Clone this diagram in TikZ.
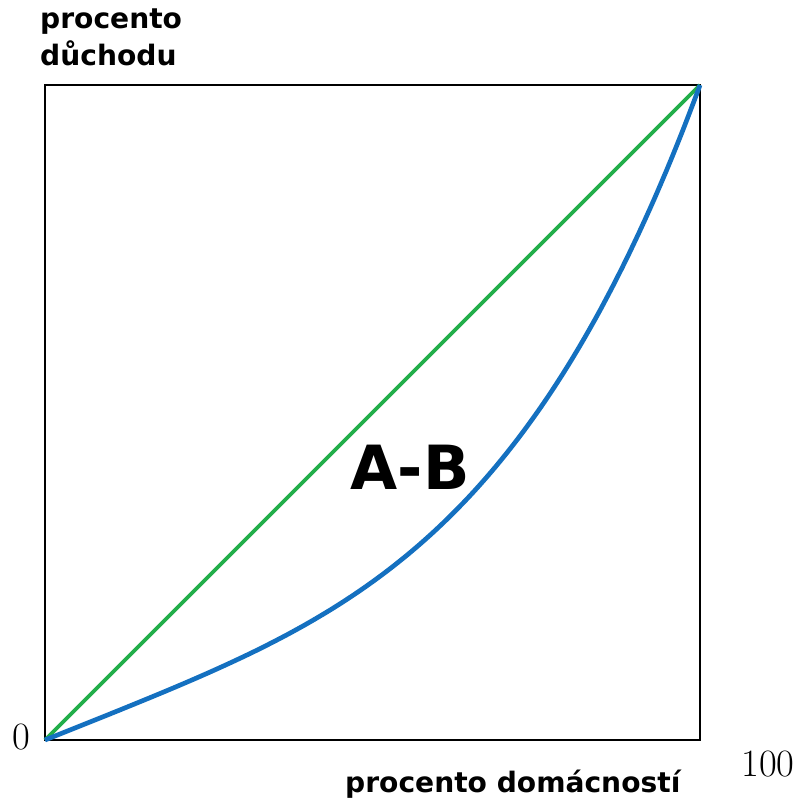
\documentclass[tikz,border=0pt]{standalone}
\usepackage{fontspec}
\usepackage{tikz}
\newfontfamily\labfont{DejaVu Sans}
\definecolor{equalgreen}{RGB}{34,174,74}
\definecolor{lorenzblue}{RGB}{20,112,192}

\begin{document}
\begin{tikzpicture}[x=0.03cm, y=-0.03cm,
		axislab/.style={font=\labfont\bfseries\fontsize{24}{31.5}\selectfont, inner sep=0pt},
		numlab/.style={font=\fontsize{33}{33}\selectfont, inner sep=0pt},
		arealab/.style={font=\labfont\bfseries\fontsize{52}{52}\selectfont, inner sep=0pt}]
				\useasboundingbox (0,0) rectangle (804,801);
				\coordinate (O) at (45,740);
				\coordinate (T) at (700,85);
				
				\draw[line width=1.7pt] (O) rectangle (T);
				% line of equality
				\draw[equalgreen, line width=3.1pt] (O) -- (T);
				% Lorenz curve
				\draw[lorenzblue, line width=4pt, line join=round] (O) -- plot[domain=0.002:1, samples=120]
						({45+655*\x}, {740-655*(0.4*\x+0.6*\x^3.85)}) -- (T);
				
				\node[axislab, anchor=north west, align=left] (Y) at (40,9) {procento\\důchodu};
				\node[axislab, anchor=base west] (X) at (345,792) {procento domácností};
				\node[numlab] (zero) at (21,737) {0};
				\node[numlab] (hundred) at (768,764) {100};
				\node[arealab] (AB) at (410,467) {A-B};
			\end{tikzpicture}
\end{document}
